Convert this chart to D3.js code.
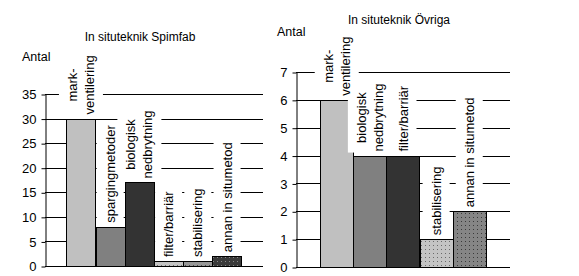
<!DOCTYPE html>
<html>
<head>
<meta charset="utf-8">
<script src="https://cdn.jsdelivr.net/npm/d3@7"></script>
<style>
  body { margin: 0; background: #fff; }
  svg { display: block; font-family: 'Liberation Sans', Arial, sans-serif; }
</style>
</head>
<body>
<svg id="chart" width="579" height="276"></svg>
<script>
// data
const spimfabCategories = ['mark-\nventilering', 'spargingmetoder', 'biologisk\nnedbrytning', 'filter/barriär', 'stabilisering', 'annan in situmetod'];
const spimfabValues = [30, 8, 17, 1, 1, 2];
const spimfabTicks = [0, 5, 10, 15, 20, 25, 30, 35];

const ovrigaCategories = ['mark-\nventilering', 'biologisk\nnedbrytning', 'filter/barriär', 'stabilisering', 'annan in situmetod'];
const ovrigaValues = [6, 4, 4, 1, 2];
const ovrigaTicks = [0, 1, 2, 3, 4, 5, 6, 7];

const svg = d3.select('#chart');
const defs = svg.append('defs');

// dotted fills
function dotPattern(id, bg, dot) {
  const p = defs.append('pattern')
    .attr('id', id)
    .attr('patternUnits', 'userSpaceOnUse')
    .attr('width', 4)
    .attr('height', 4);
  p.append('rect').attr('width', 4).attr('height', 4).attr('fill', bg);
  p.append('rect').attr('x', 1).attr('y', 1).attr('width', 1).attr('height', 1).attr('fill', dot);
  return 'url(#' + id + ')';
}
const dotLight = dotPattern('dotLight', '#c4c4c4', '#6a6a6a');
const dotMid = dotPattern('dotMid', '#979797', '#4a4a4a');
const dotDark = dotPattern('dotDark', '#3a3a3a', '#8a8a8a');
const dotGray = dotPattern('dotGray', '#858585', '#3a3a3a');

function drawChart(opts) {
  const {categories, values, ticks, fills, title, left, right, top, bottom, titleX, titleY, antalX, antalY} = opts;
  const g = svg.append('g');

  const x = d3.scaleBand().domain(categories).range([left, right]).paddingInner(0).paddingOuter(0.73);
  const y = d3.scaleLinear().domain([0, d3.max(ticks)]).range([bottom, top]);

  // grid
  g.selectAll('.grid')
    .data(ticks)
    .enter()
    .append('line')
    .attr('x1', left)
    .attr('x2', right)
    .attr('y1', d => Math.round(y(d)) + 0.5)
    .attr('y2', d => Math.round(y(d)) + 0.5)
    .attr('stroke', '#000');

  const axis = d3.axisLeft(y).tickValues(ticks).tickFormat(d3.format('d')).tickSize(4).tickPadding(5).tickSizeOuter(0);
  const gAxis = g.append('g')
    .attr('transform', 'translate(' + (left + 0.5) + ',0.5)')
    .call(axis);
  gAxis.selectAll('text').attr('font-size', 13).attr('font-family', "'Liberation Sans', Arial, sans-serif").attr('fill', '#000');
  gAxis.selectAll('line, path').attr('stroke', '#000');

  // bars
  g.selectAll('.bar')
    .data(values)
    .enter()
    .append('rect')
    .attr('x', (d, i) => Math.round(x(categories[i])) + 0.5)
    .attr('y', d => Math.round(y(d)) + 0.5)
    .attr('width', Math.round(x.bandwidth()))
    .attr('height', d => Math.round(y(0)) - Math.round(y(d)))
    .attr('fill', (d, i) => fills[i])
    .attr('stroke', '#000');

  // rotated labels with white boxes that hide the grid
  const lh = 17, gap = 4, padX = 7, padY = 2;
  const boxLayer = g.append('g');
  const textLayer = g.append('g');
  categories.forEach((c, i) => {
    const lines = c.split('\n');
    const cx = x(c) + x.bandwidth() / 2;
    const box = boxLayer.append('rect').attr('fill', '#fff');
    const t = textLayer.append('g');
    const texts = t.selectAll('text')
      .data(lines)
      .enter()
      .append('text')
      .attr('text-anchor', 'middle')
      .attr('font-size', 13)
      .attr('x', 0)
      .attr('y', (d, j) => (j - (lines.length - 1) / 2) * lh)
      .attr('dy', '0.35em')
      .text(d => d);
    let len = 0;
    texts.each(function() { len = Math.max(len, this.getComputedTextLength()); });
    const barTop = y(values[i]);
    const cy = barTop - gap - len / 2;
    t.attr('transform', 'translate(' + cx + ',' + cy + ') rotate(-90)');
    const w = lines.length * lh - 4 + 2 * padX;
    box.attr('x', cx - w / 2)
      .attr('y', barTop - gap - len - padY)
      .attr('width', w)
      .attr('height', len + padY + 1);
  });

  svg.append('text')
    .attr('x', titleX)
    .attr('y', titleY)
    .attr('text-anchor', 'middle')
    .attr('font-size', 12)
    .text(title);
  svg.append('text')
    .attr('x', antalX)
    .attr('y', antalY)
    .attr('font-size', 12.5)
    .text('Antal');
}

drawChart({
  categories: spimfabCategories,
  values: spimfabValues,
  ticks: spimfabTicks,
  fills: ['#c0c0c0', '#808080', '#333333', dotLight, dotMid, dotDark],
  title: 'In situteknik Spimfab',
  left: 45, right: 263, top: 94, bottom: 266,
  titleX: 140, titleY: 41, antalX: 22, antalY: 61
});

drawChart({
  categories: ovrigaCategories,
  values: ovrigaValues,
  ticks: ovrigaTicks,
  fills: ['#c0c0c0', '#808080', '#333333', dotLight, dotGray],
  title: 'In situteknik Övriga',
  left: 296, right: 510, top: 72, bottom: 267,
  titleX: 399, titleY: 24, antalX: 277, antalY: 36
});
</script>
</body>
</html>
